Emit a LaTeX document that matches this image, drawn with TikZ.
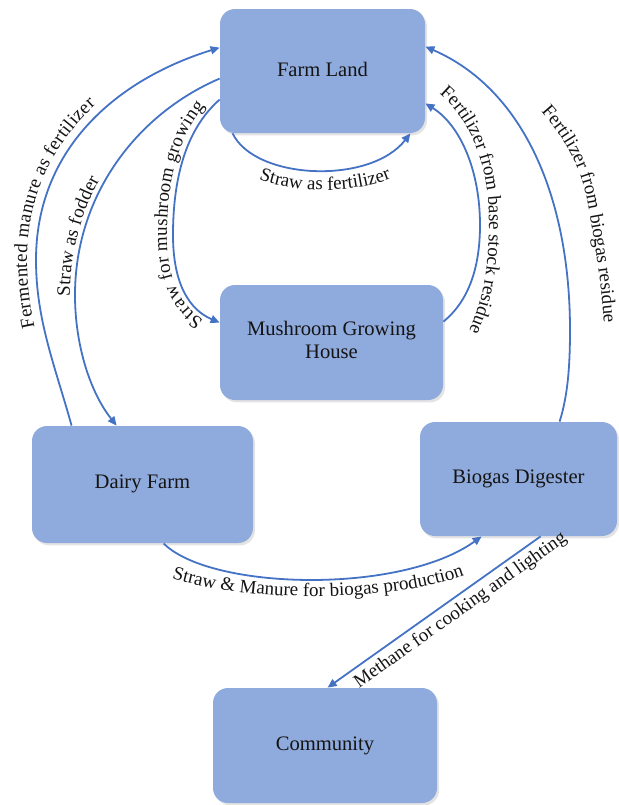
\documentclass[tikz,border=0pt]{standalone}
\usepackage{fontspec}
\setmainfont{Liberation Serif}
\usetikzlibrary{arrows.meta,decorations.text,shadows,calc}
\definecolor{boxfill}{HTML}{8FAADC}
\definecolor{arrowblue}{HTML}{4472C4}
\definecolor{txt}{HTML}{141414}
\newcommand{\boxfont}{\fontsize{10.3pt}{11.6pt}\selectfont}
\newcommand{\labfont}{\fontsize{9.5pt}{11pt}\selectfont}
\begin{document}
\begin{tikzpicture}[x=0.5pt,y=0.5pt,
  box/.style={fill=boxfill, rounded corners=7.5pt, inner sep=0pt, align=center,
    font=\boxfont, text=txt,
    drop shadow={shadow xshift=1pt, shadow yshift=-1.2pt, opacity=0.22}},
  flow/.style={draw=arrowblue, line width=0.9pt, -{Triangle[length=4.5pt,width=4pt]}},
  lab/.style={decorate, decoration={text along path, text align=center, text color=txt}}
]
\useasboundingbox (0,0) rectangle (619,-805);

% boxes
\node[box, minimum width=102.5pt, minimum height=62pt] (farm) at (322.5,-71)
  {\raisebox{2pt}{Farm Land}};
\node[box, minimum width=111.5pt, minimum height=57.5pt] (mush) at (331.5,-342.5)
  {\raisebox{2pt}{\begin{tabular}{@{}c@{}}Mushroom Growing\\House\end{tabular}}};
\node[box, minimum width=110.5pt, minimum height=58.5pt] (dairy) at (142.5,-484.5)
  {\raisebox{2.5pt}{Dairy Farm}};
\node[box, minimum width=98.5pt, minimum height=57pt] (bio) at (518.5,-479)
  {\raisebox{2.5pt}{Biogas Digester}};
\node[box, minimum width=112pt, minimum height=57.5pt] (comm) at (325,-745.5)
  {\raisebox{1.5pt}{Community}};

% 1 Fermented manure as fertilizer
\draw[flow] ($(dairy.north west)+(40,0)$) .. controls (55,-366) and (36,-320) .. (36,-260)
  .. controls (36,-150) and (115,-80) .. ($(farm.north west)+(0,-39)$);
\path[lab, decoration={text={|\labfont|Fermented manure as fertilizer}, raise=4.5pt}]
  (80,-455) -- ($(dairy.north west)+(40,0)$) .. controls (55,-366) and (36,-320) .. (36,-260)
  .. controls (36,-150) and (115,-80) .. ($(farm.north west)+(0,-39)$);

% 2 Straw as fodder
\draw[flow] ($(farm.north west)+(0,-70)$) .. controls (137,-114) and (75,-195) .. (75,-295)
  .. controls (75,-345) and (90,-392) .. ($(dairy.north west)+(85,0)$);
\path[lab, decoration={text={|\labfont|Straw as fodder}, raise=2.5pt}]
  (129,-441) -- ($(dairy.north west)+(85,0)$) .. controls (90,-392) and (75,-345) .. (75,-295)
  .. controls (75,-195) and (137,-114) .. ($(farm.north west)+(0,-70)$);

% 3 Straw for mushroom growing
\draw[flow] ($(farm.north west)+(0,-91)$) .. controls (185,-130) and (173,-180) .. (173,-235)
  .. controls (173,-285) and (190,-310) .. ($(mush.north west)+(0,-38)$);
\path[lab, decoration={text={|\labfont|Straw for mushroom growing}, raise=3pt}]
  ($(mush.north west)+(0,-38)$) .. controls (190,-310) and (173,-285) .. (173,-235)
  .. controls (173,-180) and (185,-130) .. ($(farm.north west)+(0,-91)$);

% 4 Straw as fertilizer
\draw[flow] ($(farm.south west)+(13,0)$) .. controls (255,-180) and (370,-185)
  .. ($(farm.south east)+(-15,0)$);
\path[lab, decoration={text={|\labfont|Straw as fertilizer}}]
  (240,-170) .. controls (280,-197) and (370,-197) .. (410,-168);

% 5 Fertilizer from base stock residue
\draw[flow] ($(mush.north east)+(0,-37)$) .. controls (470,-300) and (480,-265) .. (480,-225)
  .. controls (480,-170) and (460,-125) .. ($(farm.south east)+(0,30)$);
\path[lab, decoration={text={|\labfont|Fertilizer from base stock residue}}]
  (432,-88) .. controls (470,-115) and (489,-165) .. (489,-220)
  .. controls (489,-275) and (482,-305) .. (465,-340);

% 6 Fertilizer from biogas residue
\draw[flow] ($(bio.north west)+(140,0)$) .. controls (568,-395) and (570,-365) .. (570,-330)
  .. controls (570,-200) and (525,-90) .. ($(farm.north east)+(0,-38)$);
\path[lab, decoration={text={|\labfont|Fertilizer from biogas residue}}]
  (526,-96) .. controls (560,-130) and (580,-160) .. (588,-205)
  .. controls (596,-250) and (603,-290) .. (605,-345);

% 7 Straw & Manure for biogas production
\draw[flow] ($(dairy.south west)+(132,0)$) .. controls (210,-590) and (400,-595)
  .. ($(bio.south west)+(62,0)$);
\path[lab, decoration={text={|\labfont|Straw {\&} Manure for biogas production}}]
  (158,-574) .. controls (235,-603) and (395,-606) .. (478,-570);

% 8 Methane for cooking and lighting
\draw[flow] ($(bio.south west)+(121,0)$) -- ($(comm.north west)+(115,0)$);
\path ($(comm.north west)+(115,0)$) -- ($(bio.south west)+(121,0)$)
  node[pos=0.586, sloped, below=2.5pt, inner sep=0pt, font=\labfont, text=txt]
  {Methane for cooking and lighting};
\end{tikzpicture}
\end{document}
